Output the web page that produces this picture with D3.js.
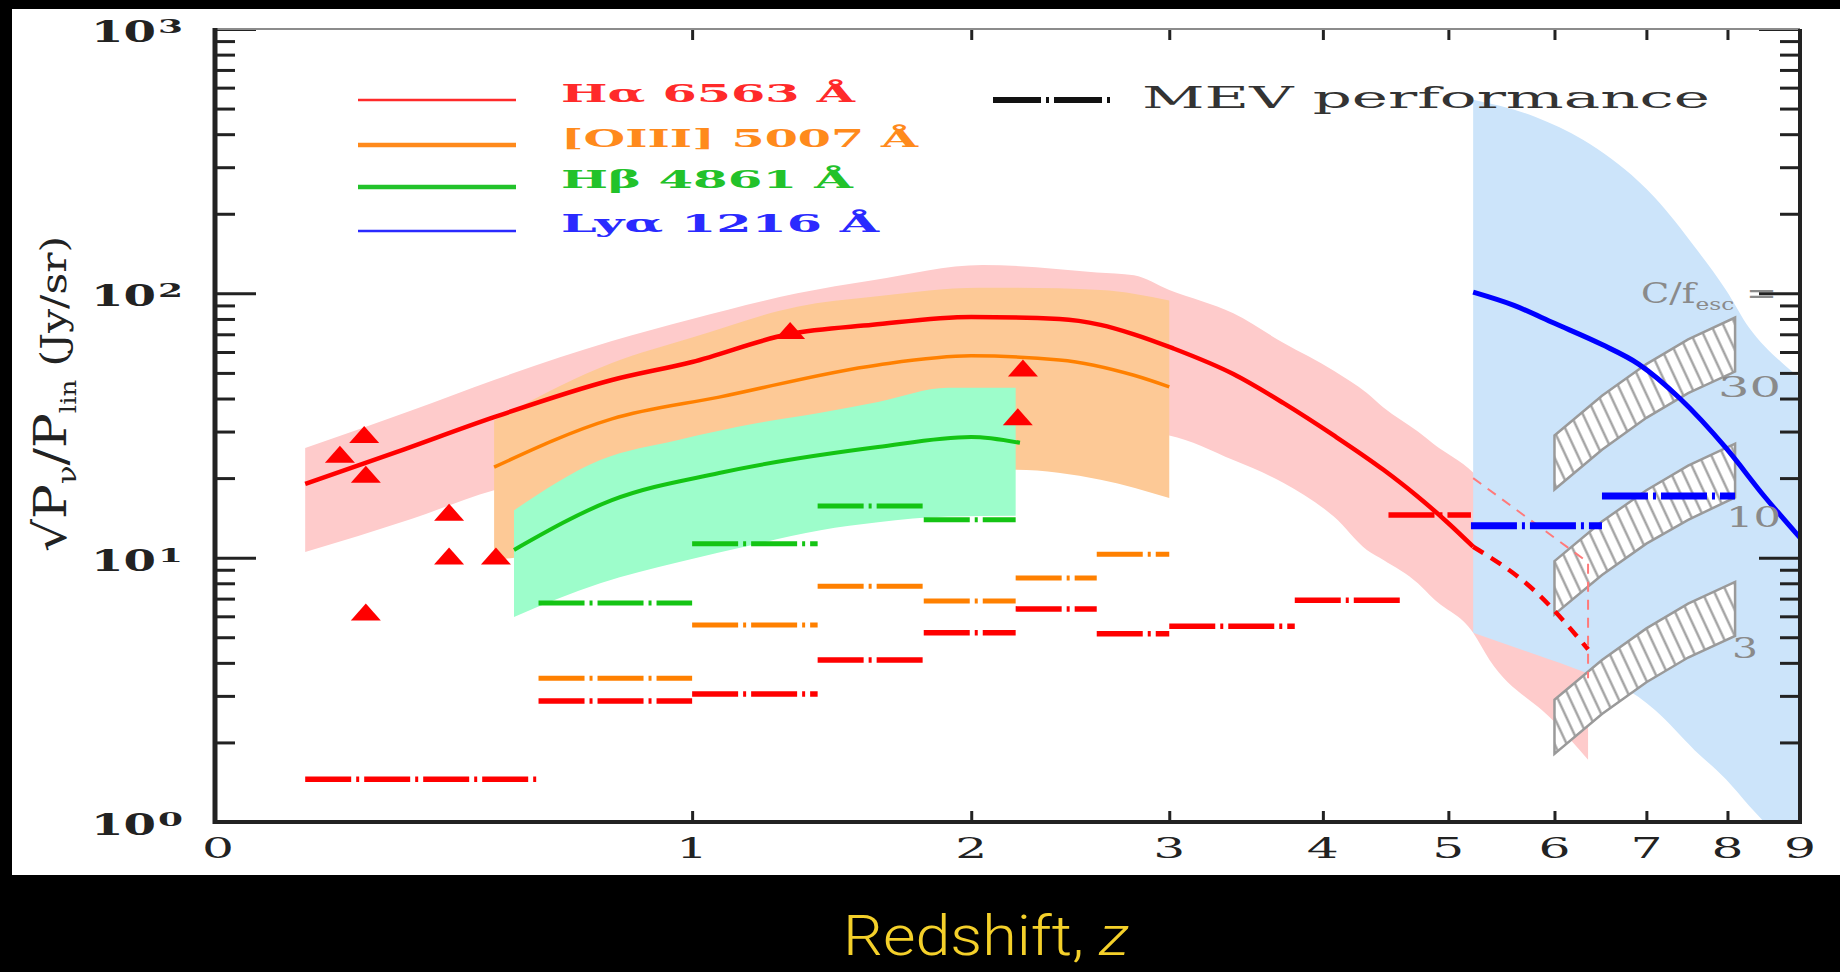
<!DOCTYPE html>
<html>
<head>
<meta charset="utf-8">
<script src="https://cdn.jsdelivr.net/npm/d3@7"></script>
<style>
  html, body { margin: 0; padding: 0; background: #000; }
  svg { display: block; }
</style>
</head>
<body>
<svg id="chart" width="1840" height="972"></svg>
<script>
(function(){
    // ---------- data ----------
    var zTicks = [0, 1, 2, 3, 4, 5, 6, 7, 8, 9];
    var zTickLabels = ['0', '1', '2', '3', '4', '5', '6', '7', '8', '9'];
    var yMajor = [1, 10, 100, 1000];
    var yExp = ['0', '1', '2', '3'];

    // bands: [z, lower, upper]
    var haBand = [[0.14,10.5,26],[0.33,14,36],[0.5,18,47],[0.78,21,66],[1.0,23,80],[1.33,26,100],
        [1.6,28,112],[2.05,30,128],[2.6,30,120],[2.8,30,117],[3.0,29,103],[3.39,23.4,84],[3.72,19.2,65],
        [4.08,14.3,51],[4.33,10.7,42],[4.46,9.8,37],[4.74,8.0,30],[4.87,7.0,27],[5.22,5.2,21],
        [5.37,4.1,18],[5.98,2.43,12.5],[6.35,1.72,9.6]];
    var o3Band = [[0.5,9.8,33],[0.78,11,54.5],[1.0,12,68],[1.33,14.5,89],[1.6,17,97],[2.04,20,105],
        [2.2,21.5,105],[2.62,19.7,103],[3.0,16.8,94]];
    var hbBand = [[0.544,5.97,15.1],[0.75,8.0,23.4],[0.96,9.6,27.9],[1.2,11.3,32.3],[1.41,12.7,35.3],
        [1.62,13.6,38.8],[1.9,14.3,43.9],[2.2,14.4,43.9]];
    var lyaBand = [[5.22,5.2,540],[5.81,4.3,465],[6.3,3.7,380],[6.91,2.97,265],[7.1,2.65,230],
        [7.58,1.87,150],[7.98,1.45,103],[8.29,1.15,74],[8.73,0.85,55],[9.0,0.7,48]];

    // model lines: [z, value]
    var haLine = [[0.14,19],[0.3,25],[0.5,34],[0.78,47],[1.0,55],[1.3,70],[1.6,76],[2.0,81.4],
        [2.41,80],[2.62,76],[2.8,70],[3.02,62],[3.39,49.5],[3.72,38.5],[4.08,29],[4.46,21.5],
        [4.72,17.3],[5.0,13.5],[5.22,11]];
    var haDashed = [[5.22,11],[5.8,7.5],[6.35,4.5]];
    var haThin = [[5.22,20],[6.35,9.6],[6.35,3.5]];
    var o3Line = [[0.5,22],[0.78,33.5],[1.08,40.5],[1.62,53.6],[2.0,58],[2.41,56],[2.8,49],[3.0,44.3]];
    var hbLine = [[0.544,10.7],[0.78,16.5],[1.08,20.9],[1.62,26.2],[2.0,28.6],[2.22,27.2]];
    var lyaLine = [[5.22,101],[5.6,90],[6.0,77],[6.5,64],[6.91,54],[7.4,40],[7.98,26],[8.5,17],[9.0,11.9]];

    // MEV performance: [z from, z to, value]
    var mevRed = [[0.14,0.6,1.45],[0.6,1.0,2.87],[1.0,1.4,3.05],[1.4,1.8,4.1],[1.8,2.2,5.2],
        [2.2,2.6,6.4],[2.6,3.0,5.15],[3.0,3.8,5.5],[3.8,4.6,6.9],[4.5,5.2,14.5]];
    var mevOrange = [[0.6,1.0,3.5],[1.0,1.4,5.56],[1.4,1.8,7.8],[1.8,2.2,6.86],[2.2,2.6,8.38],[2.6,3.0,10.3]];
    var mevGreen = [[0.6,1.0,6.74],[1.0,1.4,11.3],[1.4,1.8,15.7],[1.8,2.2,13.9]];
    var mevBlue = [[5.2,6.5,13.2],[6.5,8.1,17.1]];

    // H-alpha measurements (triangles): [z, value]
    var haPoints = [[0.242,29.1],[0.199,24.5],[0.245,20.6],[0.405,14.8],[0.405,10.1],[0.504,10.1],
        [0.245,6.2],[1.306,72],[2.234,52],[2.21,34]];

    // C/f_esc boxes
    var boxZ = [6, 6.5, 7, 7.5, 8.1];
    var box30Top = [29, 41, 54, 67, 81],     box30Bot = [18.1, 25.6, 33.8, 41.9, 50.6];
    var box10Top = [9.7, 13.7, 18, 22.3, 27], box10Bot = [6.1, 8.6, 11.3, 13.9, 16.9];
    var box3Top  = [2.9, 4.1, 5.4, 6.7, 8.1], box3Bot  = [1.81, 2.56, 3.38, 4.19, 5.06];

    var legendNames = ['H\u03b1 6563 \u00c5', '[OIII] 5007 \u00c5', 'H\u03b2 4861 \u00c5', 'Ly\u03b1 1216 \u00c5'];
    var legendColors = ['#ff2a2a', '#ff8a1c', '#22c22a', '#2a2aff'];

    // ---------- setup ----------
    var W = 1840, H = 972;
    var left = 215, right = 1800, top = 29, bottom = 822;
    var serif = "'DejaVu Serif', 'Liberation Serif', serif";

    var svg = d3.select('#chart');
    svg.append('rect').attr('width', W).attr('height', H).attr('fill', '#000');
    svg.append('rect').attr('x', 12).attr('y', 9).attr('width', W - 12).attr('height', 866).attr('fill', '#fff');

    var xs = d3.scaleLog().domain([1, 10]).range([left, right]);
    var ys = d3.scaleLog().domain([1, 1000]).range([bottom, top]);
    function X(z){ return xs(1 + z); }

    var defs = svg.append('defs');
    defs.append('clipPath').attr('id', 'plot-clip')
        .append('rect').attr('x', left).attr('y', top)
        .attr('width', right - left).attr('height', bottom - top);

    var hatch = defs.append('pattern').attr('id', 'hatch')
        .attr('patternUnits', 'userSpaceOnUse')
        .attr('width', 11).attr('height', 11)
        .attr('patternTransform', 'rotate(-25)');
    hatch.append('rect').attr('width', 11).attr('height', 11).attr('fill', '#fff');
    hatch.append('line').attr('x1', 5.5).attr('y1', 0).attr('x2', 5.5).attr('y2', 11)
        .attr('stroke', '#9a9a9a').attr('stroke-width', 2.2);

    var plot = svg.append('g').attr('clip-path', 'url(#plot-clip)');

    var area = d3.area()
        .x(function(d){ return X(d[0]); })
        .y0(function(d){ return ys(d[1]); })
        .y1(function(d){ return ys(d[2]); })
        .curve(d3.curveMonotoneX);

    var line = d3.line()
        .x(function(d){ return X(d[0]); })
        .y(function(d){ return ys(d[1]); })
        .curve(d3.curveMonotoneX);

    var straight = d3.line()
        .x(function(d){ return X(d[0]); })
        .y(function(d){ return ys(d[1]); });

    // ---------- bands ----------
    plot.append('path').attr('d', area(haBand)).attr('fill', '#fecbcb');
    plot.append('path').attr('d', area(o3Band)).attr('fill', '#fdc996');
    plot.append('path').attr('d', area(hbBand)).attr('fill', '#9dfdcb');
    plot.append('path').attr('d', area(lyaBand)).attr('fill', '#cce4fa');

    // ---------- hatched C/f_esc boxes ----------
    var boxes = [[box30Top, box30Bot], [box10Top, box10Bot], [box3Top, box3Bot]];
    boxes.forEach(function(b){
        var pts = boxZ.map(function(z, i){ return [z, b[0][i]]; })
            .concat(boxZ.map(function(z, i){ return [z, b[1][i]]; }).reverse());
        plot.append('path')
            .attr('d', d3.line()
                .x(function(d){ return X(d[0]); })
                .y(function(d){ return ys(d[1]); })
                .curve(d3.curveLinearClosed)(pts))
            .attr('fill', 'url(#hatch)')
            .attr('stroke', '#9a9a9a')
            .attr('stroke-width', 2.5);
    });

    // ---------- model lines ----------
    plot.append('path').attr('d', line(haLine)).attr('fill', 'none')
        .attr('stroke', '#ff0000').attr('stroke-width', 4.5);
    plot.append('path').attr('d', line(haDashed)).attr('fill', 'none')
        .attr('stroke', '#ff0000').attr('stroke-width', 4.5).attr('stroke-dasharray', '12,9');
    plot.append('path').attr('d', straight(haThin)).attr('fill', 'none')
        .attr('stroke', '#ff7a7a').attr('stroke-width', 2).attr('stroke-dasharray', '10,8');
    plot.append('path').attr('d', line(o3Line)).attr('fill', 'none')
        .attr('stroke', '#ff8000').attr('stroke-width', 3.5);
    plot.append('path').attr('d', line(hbLine)).attr('fill', 'none')
        .attr('stroke', '#14c414').attr('stroke-width', 4);
    plot.append('path').attr('d', line(lyaLine)).attr('fill', 'none')
        .attr('stroke', '#0000ff').attr('stroke-width', 5);

    // ---------- MEV performance (dash-dot steps) ----------
    function mev(data, color, width){
        plot.append('g').selectAll('line').data(data).enter().append('line')
            .attr('x1', function(d){ return X(d[0]); })
            .attr('x2', function(d){ return X(d[1]); })
            .attr('y1', function(d){ return ys(d[2]); })
            .attr('y2', function(d){ return ys(d[2]); })
            .attr('stroke', color)
            .attr('stroke-width', width)
            .attr('stroke-dasharray', '46,5,3,5');
    }
    mev(mevGreen, '#14c414', 5);
    mev(mevOrange, '#ff8000', 5);
    mev(mevRed, '#ff0000', 5.5);
    mev(mevBlue, '#0000ff', 7);

    // ---------- triangles ----------
    plot.append('g').selectAll('path').data(haPoints).enter().append('path')
        .attr('d', 'M-15,8L15,8L0,-9Z')
        .attr('transform', function(d){ return 'translate(' + X(d[0]) + ',' + ys(d[1]) + ')'; })
        .attr('fill', '#ff0000');

    // ---------- box labels ----------
    var lab = svg.append('g').attr('fill', '#8a8a8a').style('font-family', serif).style('font-size', '27px');
    var cf = lab.append('text').attr('x', 1641).attr('y', 303).attr('textLength', 136).attr('lengthAdjust', 'spacingAndGlyphs');
    cf.append('tspan').text('C/f');
    cf.append('tspan').attr('dy', 7).style('font-size', '17px').text('esc');
    cf.append('tspan').attr('dy', -7).text(' =');
    lab.append('text').attr('x', 1718).attr('y', 397).attr('textLength', 63).attr('lengthAdjust', 'spacingAndGlyphs').text('30');
    lab.append('text').attr('x', 1726).attr('y', 527).attr('textLength', 55).attr('lengthAdjust', 'spacingAndGlyphs').text('10');
    lab.append('text').attr('x', 1732).attr('y', 658).attr('textLength', 26).attr('lengthAdjust', 'spacingAndGlyphs').text('3');

    // ---------- legend ----------
    var legY = [100, 145, 187, 231];
    var legBase = [102, 147, 188, 232];
    var legLen = [294, 357, 292, 318];
    var legW = [2.5, 4.5, 4.5, 2.5];
    var leg = svg.append('g');
    legendNames.forEach(function(n, i){
        leg.append('line').attr('x1', 358).attr('x2', 516).attr('y1', legY[i]).attr('y2', legY[i])
            .attr('stroke', legendColors[i]).attr('stroke-width', legW[i]);
        leg.append('text').attr('x', 561).attr('y', legBase[i])
            .attr('textLength', legLen[i]).attr('lengthAdjust', 'spacingAndGlyphs')
            .style('font-family', serif).style('font-size', '25px').style('font-weight', 'bold')
            .attr('fill', legendColors[i]).text(n);
    });
    leg.append('line').attr('x1', 993).attr('x2', 1110).attr('y1', 100).attr('y2', 100)
        .attr('stroke', '#111').attr('stroke-width', 6).attr('stroke-dasharray', '48,5,3,5');
    leg.append('text').attr('x', 1142).attr('y', 108)
        .attr('textLength', 568).attr('lengthAdjust', 'spacingAndGlyphs')
        .style('font-family', serif).style('font-size', '29px')
        .attr('fill', '#333').text('MEV performance');

    // ---------- axes ----------
    var minor = [];
    [1, 10, 100].forEach(function(dec){
        for (var k = 2; k <= 9; k++) minor.push(k * dec);
    });
    function styleAxis(g){
        g.select('.domain').remove();
        g.selectAll('.tick line').attr('stroke', '#222').attr('stroke-width', 3);
        g.selectAll('.tick text').remove();
    }
    svg.append('g').attr('transform', 'translate(' + left + ',0)')
        .call(d3.axisRight(ys).tickValues(minor).tickSize(20).tickFormat('')).call(styleAxis);
    svg.append('g').attr('transform', 'translate(' + left + ',0)')
        .call(d3.axisRight(ys).tickValues(yMajor).tickSize(41).tickFormat('')).call(styleAxis);
    svg.append('g').attr('transform', 'translate(' + right + ',0)')
        .call(d3.axisLeft(ys).tickValues(minor).tickSize(20).tickFormat('')).call(styleAxis);
    svg.append('g').attr('transform', 'translate(' + right + ',0)')
        .call(d3.axisLeft(ys).tickValues(yMajor).tickSize(41).tickFormat('')).call(styleAxis);

    var zInner = zTicks.slice(1, 9).map(function(z){ return 1 + z; });
    svg.append('g').attr('transform', 'translate(0,' + bottom + ')')
        .call(d3.axisTop(xs).tickValues(zInner).tickSize(11).tickFormat('')).call(styleAxis);
    svg.append('g').attr('transform', 'translate(0,' + top + ')')
        .call(d3.axisBottom(xs).tickValues(zInner).tickSize(11).tickFormat('')).call(styleAxis);

    // frame
    svg.append('line').attr('x1', left).attr('x2', right).attr('y1', top).attr('y2', top)
        .attr('stroke', '#8c8c8c').attr('stroke-width', 2);
    svg.append('line').attr('x1', left).attr('x2', left).attr('y1', top - 1).attr('y2', bottom + 2)
        .attr('stroke', '#222').attr('stroke-width', 5);
    svg.append('line').attr('x1', left).attr('x2', right + 2).attr('y1', bottom).attr('y2', bottom)
        .attr('stroke', '#222').attr('stroke-width', 4);
    svg.append('line').attr('x1', right).attr('x2', right).attr('y1', top).attr('y2', bottom + 2)
        .attr('stroke', '#222').attr('stroke-width', 4);

    // x tick labels
    svg.append('g').selectAll('text').data(zTicks).enter().append('text')
        .attr('x', function(d){ return X(d) + (d === 0 ? 3 : 0); })
        .attr('y', 858)
        .attr('text-anchor', 'middle')
        .attr('textLength', 32).attr('lengthAdjust', 'spacingAndGlyphs')
        .style('font-family', serif).style('font-size', '27px')
        .attr('fill', '#222')
        .text(function(d, i){ return zTickLabels[i]; });

    // y tick labels (10^n)
    var yl = svg.append('g').attr('fill', '#222').style('font-family', serif).style('font-weight', 'bold');
    yMajor.forEach(function(v, i){
        yl.append('text').attr('x', 91).attr('y', ys(v) + 13)
            .attr('textLength', 65).attr('lengthAdjust', 'spacingAndGlyphs')
            .style('font-size', '30px').text('10');
        yl.append('text').attr('x', 158).attr('y', ys(v) + 4)
            .attr('textLength', 25).attr('lengthAdjust', 'spacingAndGlyphs')
            .style('font-size', '18px').text(yExp[i]);
    });

    // y axis title
    var yt = svg.append('text')
        .attr('transform', 'translate(66,552) rotate(-90)')
        .attr('textLength', 316).attr('lengthAdjust', 'spacingAndGlyphs')
        .attr('fill', '#222')
        .style('font-family', serif);
    yt.append('tspan').style('font-size', '44px').text('\u221aP');
    yt.append('tspan').attr('dy', 10).style('font-size', '26px').text('\u03bd');
    yt.append('tspan').attr('dy', -10).style('font-size', '44px').text('/P');
    yt.append('tspan').attr('dy', 10).style('font-size', '22px').text('lin');
    yt.append('tspan').attr('dy', -10).style('font-size', '36px').text(' (Jy/sr)');

    // x axis title below the panel
    var xt = svg.append('text').attr('x', 843).attr('y', 955)
        .attr('textLength', 286).attr('lengthAdjust', 'spacingAndGlyphs')
        .attr('fill', '#f4d02a')
        .style('font-family', "Roboto, 'Open Sans', sans-serif")
        .style('font-weight', 300)
        .style('font-size', '56px');
    xt.append('tspan').text('Redshift, ');
    xt.append('tspan').style('font-style', 'italic').text('z');
})();
</script>
</body>
</html>
